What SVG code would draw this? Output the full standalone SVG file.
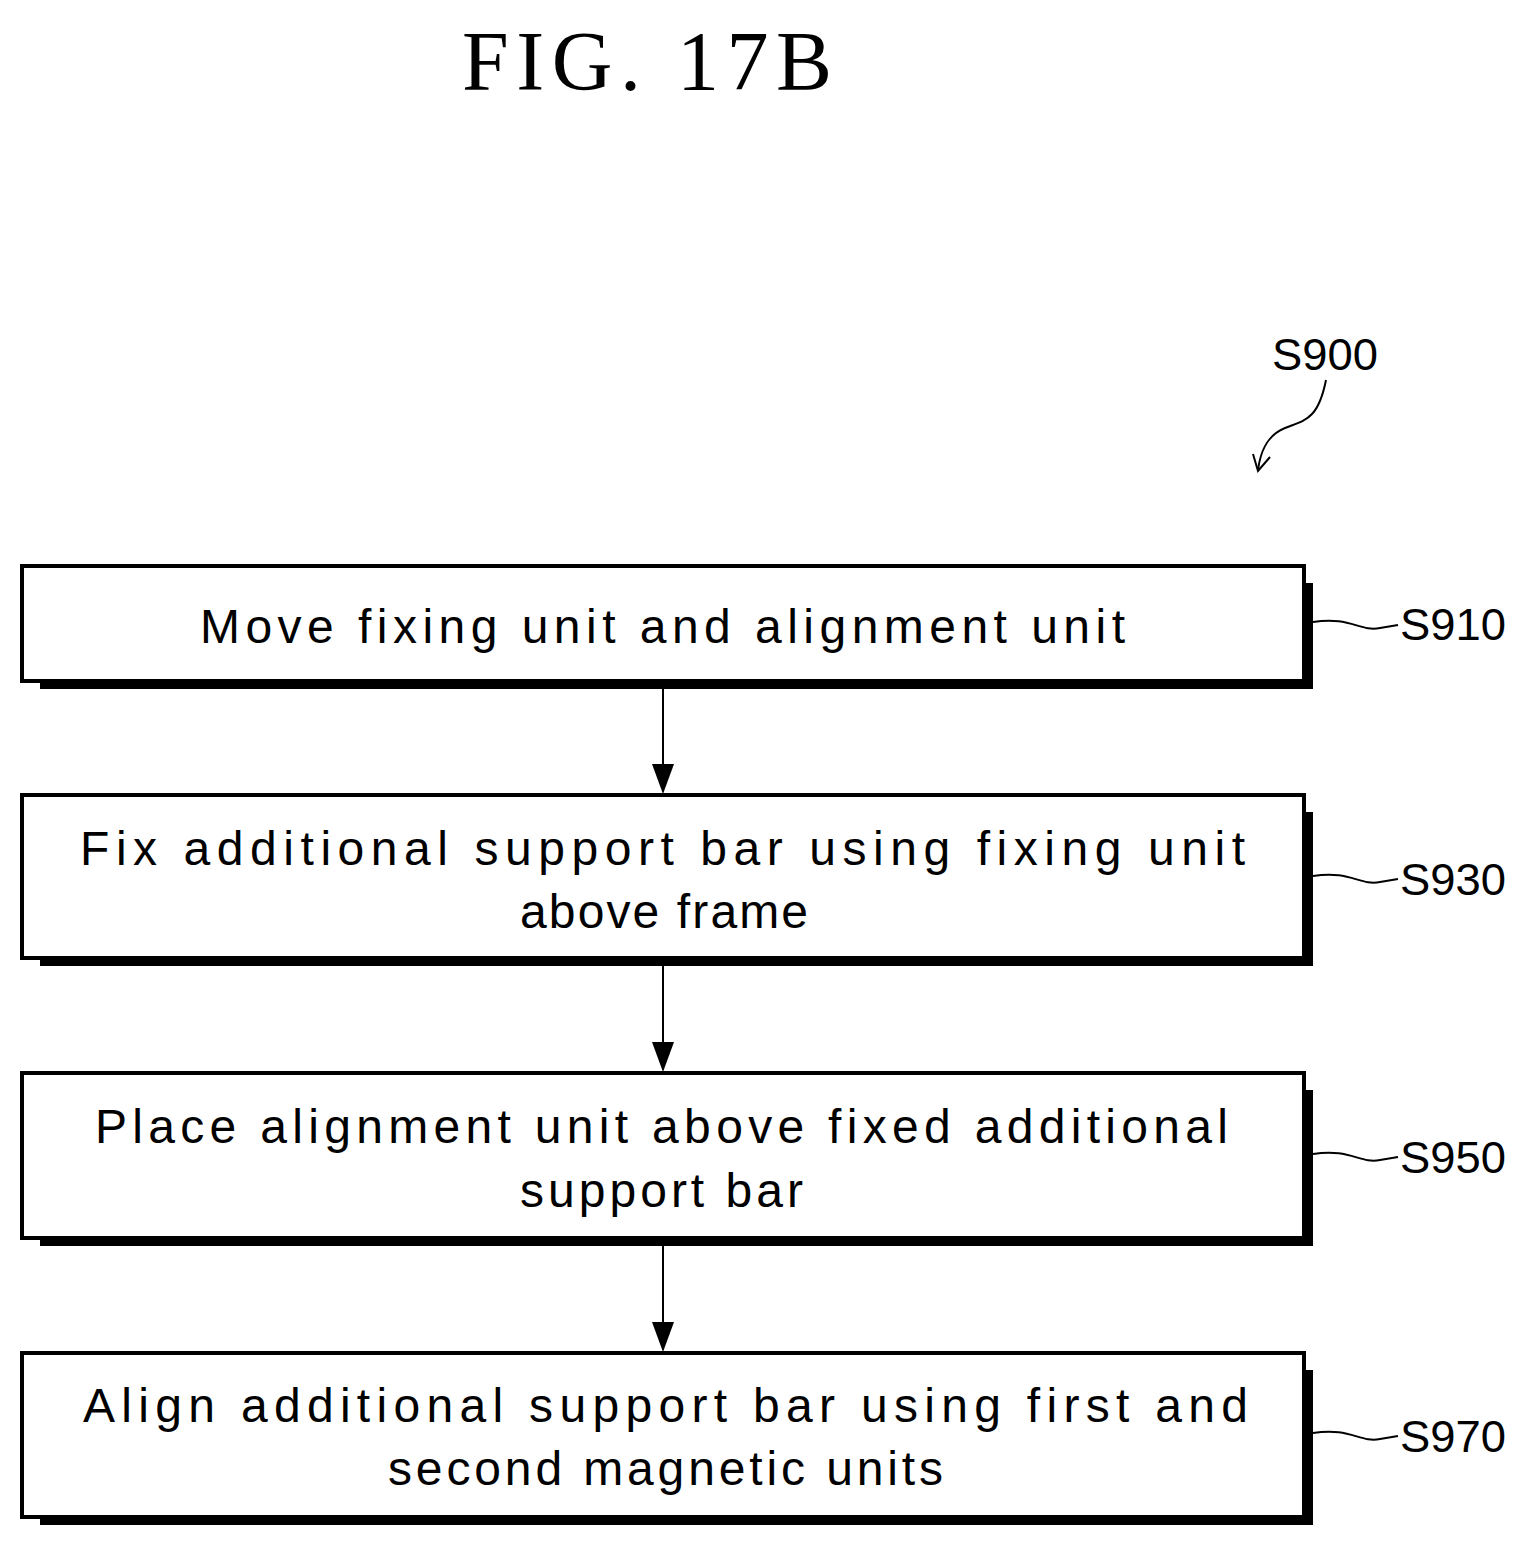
<svg xmlns="http://www.w3.org/2000/svg" width="1526" height="1548" viewBox="0 0 1526 1548">
<style>
.box{fill:#fff;stroke:#000;stroke-width:4}
.sh{fill:#000}
.t{font-family:"Liberation Sans",Arial,sans-serif;font-size:48px;fill:#000}
.lbl{font-family:"Liberation Sans",Arial,sans-serif;font-size:44px;fill:#000}
.ln{fill:none;stroke:#000;stroke-width:2}
</style>
<rect width="1526" height="1548" fill="#fff"/>
<text x="462" y="90" font-family="Liberation Serif,serif" font-size="84" textLength="370" lengthAdjust="spacing">FIG. 17B</text>
<g id="s900">
<text class="lbl" x="1272" y="370" textLength="106" lengthAdjust="spacingAndGlyphs">S900</text>
<path class="ln" d="M1326,380 C1318,420 1305,420 1285,428 C1265,436 1260,455 1258,470"/>
<path class="ln" d="M1253,454 L1258,471 L1270,457"/>
</g>
<g id="connectors">
<line class="ln" x1="663" y1="689" x2="663" y2="765"/><path d="M652,764 L674,764 L663,794 Z"/>
<line class="ln" x1="663" y1="966" x2="663" y2="1043"/><path d="M652,1042 L674,1042 L663,1072 Z"/>
<line class="ln" x1="663" y1="1244" x2="663" y2="1323"/><path d="M652,1322 L674,1322 L663,1352 Z"/>
</g>
<g id="S910">
<rect class="sh" x="40" y="583" width="1273" height="106"/>
<rect class="box" x="22" y="566" width="1282" height="115"/>
<text class="t" x="200" y="643" textLength="925" lengthAdjust="spacing">Move fixing unit and alignment unit</text>
<path class="ln" d="M1313,622 C1350,616 1360,632 1380,628 L1398,625"/>
<text class="lbl" x="1400" y="640" textLength="106" lengthAdjust="spacingAndGlyphs">S910</text>
</g>
<g id="S930">
<rect class="sh" x="40" y="812" width="1273" height="154"/>
<rect class="box" x="22" y="795" width="1282" height="163"/>
<text class="t" x="80" y="865" textLength="1165" lengthAdjust="spacing">Fix additional support bar using fixing unit</text>
<text class="t" x="520" y="928" textLength="288" lengthAdjust="spacing">above frame</text>
<path class="ln" d="M1313,876 C1350,870 1360,886 1380,882 L1398,879"/>
<text class="lbl" x="1400" y="895" textLength="106" lengthAdjust="spacingAndGlyphs">S930</text>
</g>
<g id="S950">
<rect class="sh" x="40" y="1090" width="1273" height="156"/>
<rect class="box" x="22" y="1073" width="1282" height="165"/>
<text class="t" x="95" y="1143" textLength="1133" lengthAdjust="spacing">Place alignment unit above fixed additional</text>
<text class="t" x="520" y="1207" textLength="283" lengthAdjust="spacing">support bar</text>
<path class="ln" d="M1313,1154 C1350,1148 1360,1164 1380,1160 L1398,1157"/>
<text class="lbl" x="1400" y="1173" textLength="106" lengthAdjust="spacingAndGlyphs">S950</text>
</g>
<g id="S970">
<rect class="sh" x="40" y="1370" width="1273" height="155"/>
<rect class="box" x="22" y="1353" width="1282" height="164"/>
<text class="t" x="83" y="1422" textLength="1165" lengthAdjust="spacing">Align additional support bar using first and</text>
<text class="t" x="388" y="1485" textLength="555" lengthAdjust="spacing">second magnetic units</text>
<path class="ln" d="M1313,1433 C1350,1427 1360,1443 1380,1439 L1398,1436"/>
<text class="lbl" x="1400" y="1452" textLength="106" lengthAdjust="spacingAndGlyphs">S970</text>
</g>
</svg>
